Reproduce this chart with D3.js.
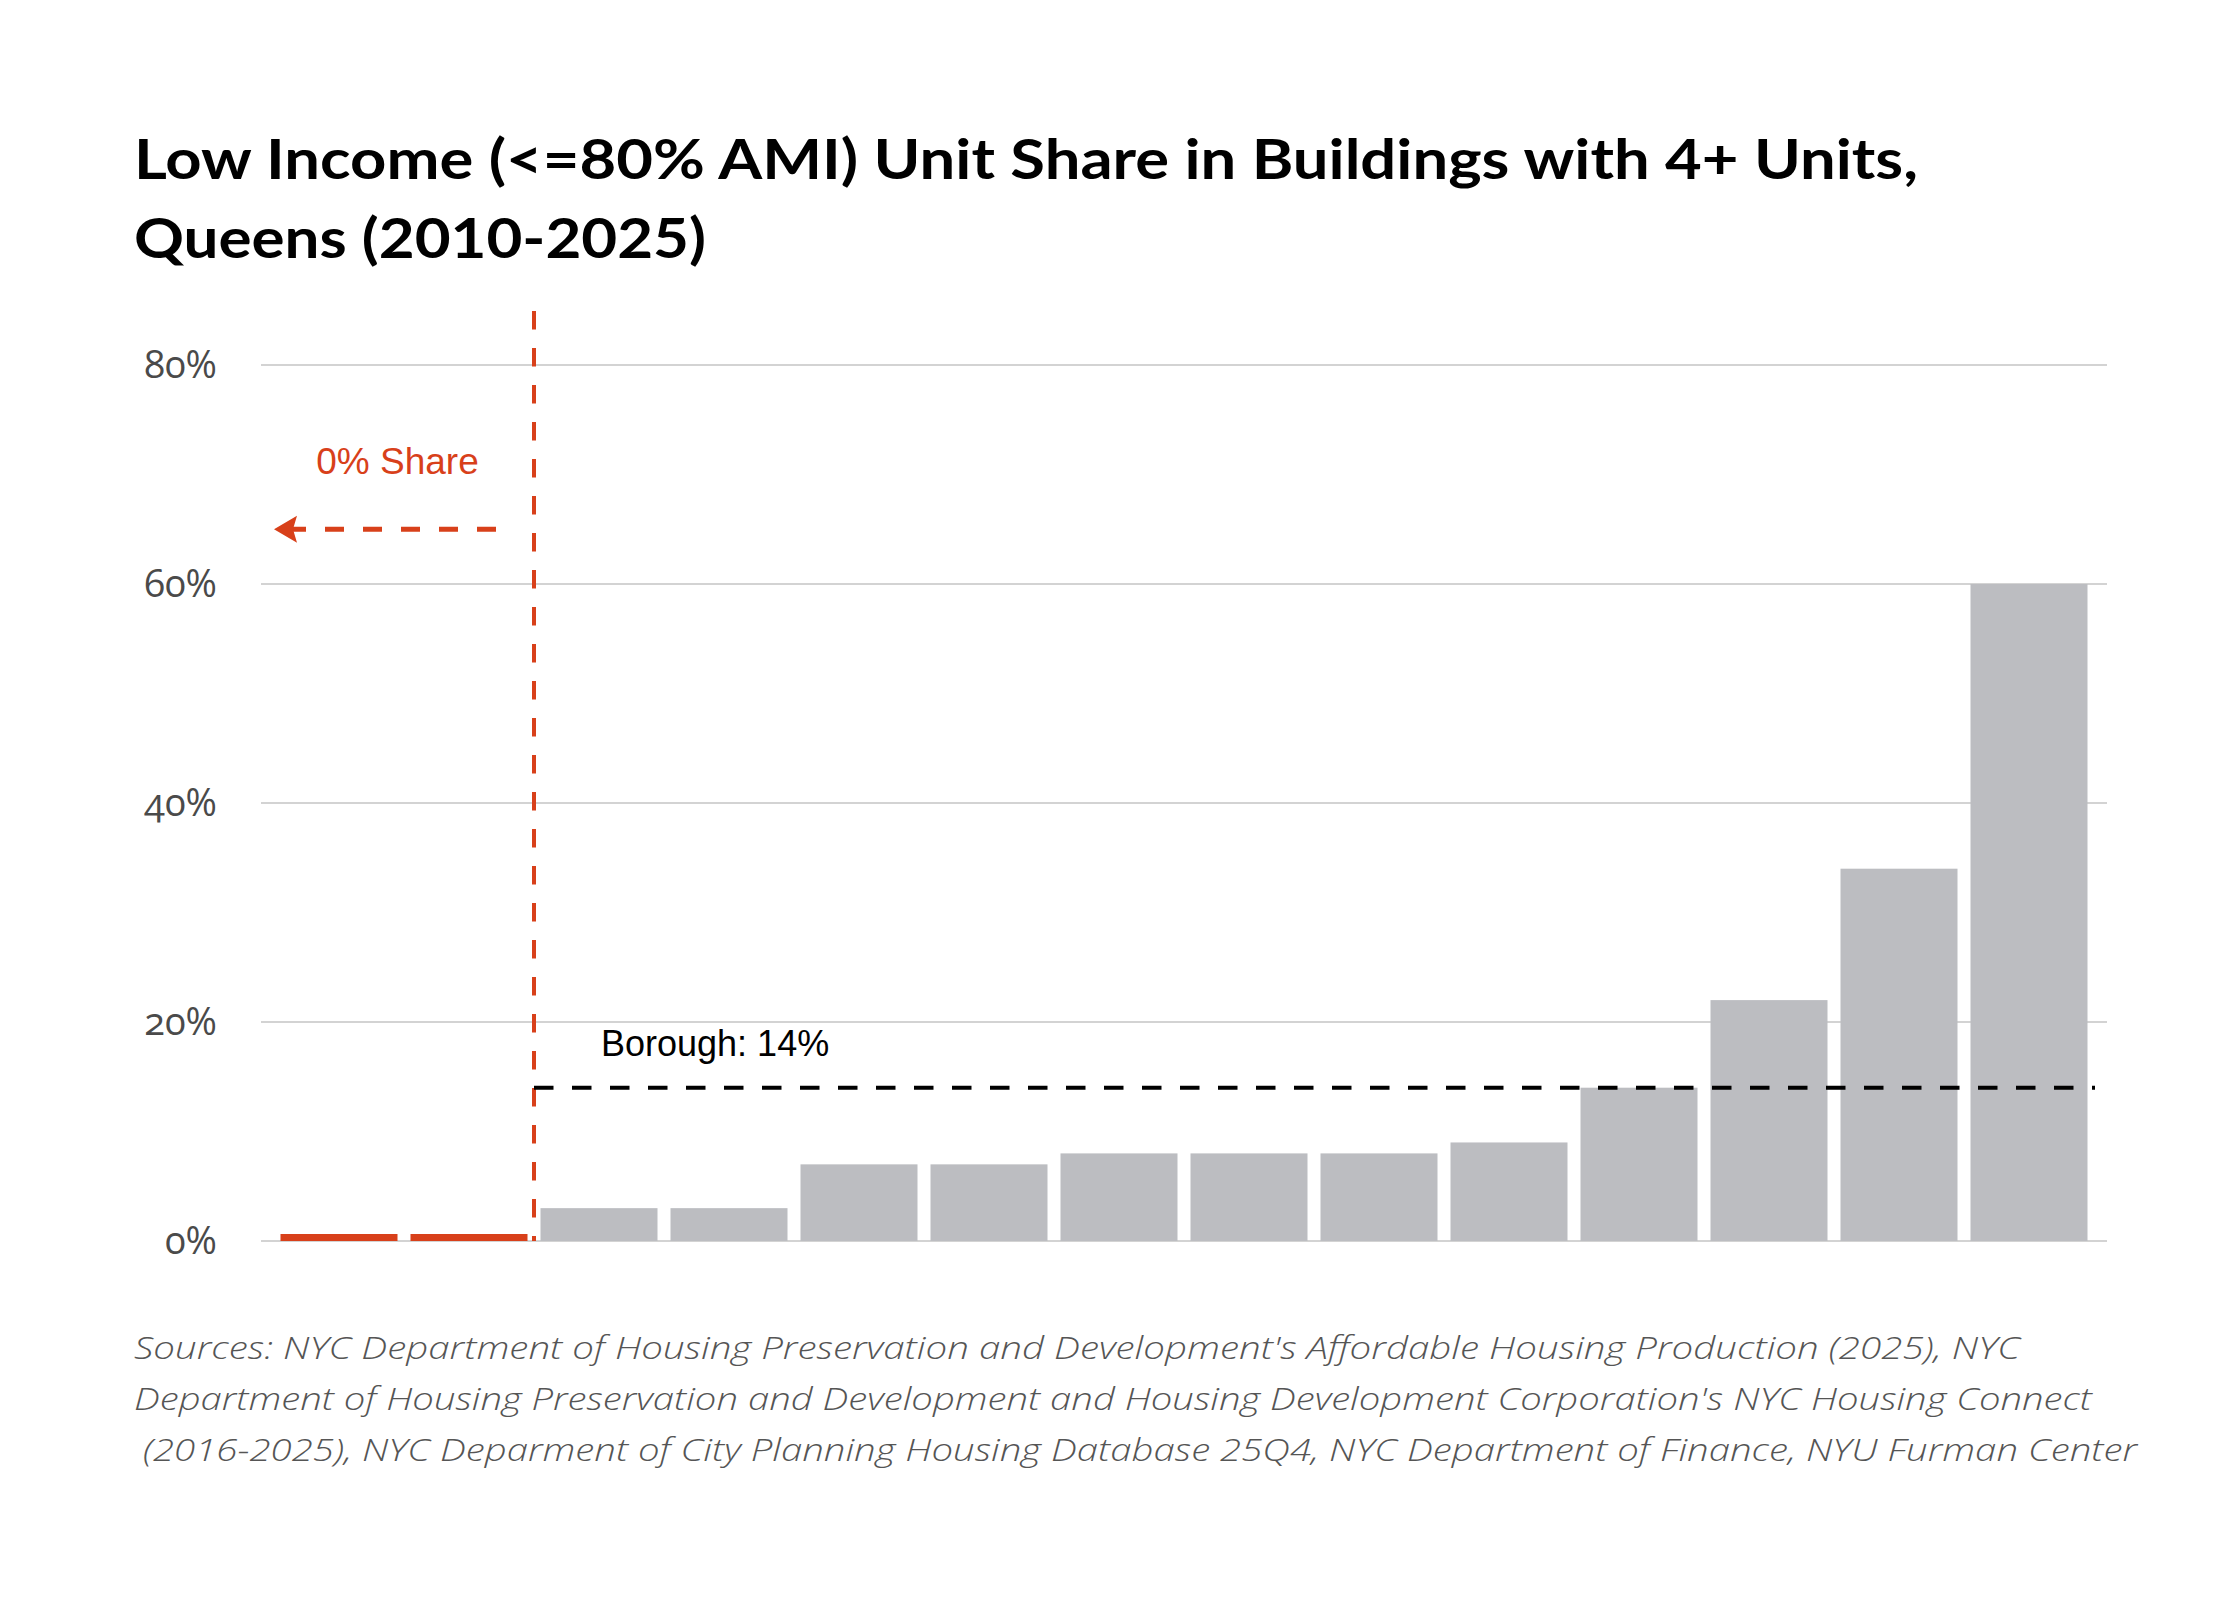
<!DOCTYPE html>
<html>
<head>
<meta charset="utf-8">
<script src="https://cdn.jsdelivr.net/npm/d3@7"></script>
<style>
  html, body { margin: 0; padding: 0; background: #fff; }
  svg { display: block; }
</style>
</head>
<body>
<svg id="chart" width="2240" height="1600"></svg>
<script>
// ---- Data ----
const categories = ["c1","c2","c3","c4","c5","c6","c7","c8","c9","c10","c11","c12","c13","c14"];
const values = [0, 0, 3, 3, 7, 7, 8, 8, 8, 9, 14, 22, 34, 60];
const zeroShare = [true, true, false, false, false, false, false, false, false, false, false, false, false, false];
const boroughValue = 14;
const yTicks = [0, 20, 40, 60, 80];
const yTickLabels = ["0%", "20%", "40%", "60%", "80%"];
const arrowLevel = 65;
const titleLines = [
  "Low Income (<=80% AMI) Unit Share in Buildings with 4+ Units,",
  "Queens (2010-2025)"
];
const sourceLines = [
  "Sources: NYC Department of Housing Preservation and Development's Affordable Housing Production (2025), NYC",
  "Department of Housing Preservation and Development and Housing Development Corporation's NYC Housing Connect",
  "(2016-2025), NYC Deparment of City Planning Housing Database 25Q4, NYC Department of Finance, NYU Furman Center"
];
const boroughLabel = "Borough: 14%";
const zeroLabel = "0% Share";

// ---- Layout ----
const svg = d3.select("#chart");
const RED = "#d8401a";
const GRAY = "#bcbdc1";
const GRID = "#d3d3d3";

const x = d3.scaleBand().domain(categories).range([261, 2107]).paddingInner(0.1).paddingOuter(0.15);
const y = d3.scaleLinear().domain([0, 80]).range([1241, 365]);

function fit(sel, target) {
  sel.each(function() {
    const w = this.getComputedTextLength();
    if (w > 0) d3.select(this).attr("textLength", target).attr("lengthAdjust", "spacingAndGlyphs");
  });
}

// Title
const titleTargets = [1784, 572];
svg.selectAll("text.title").data(titleLines).join("text")
  .attr("class", "title")
  .attr("x", 134)
  .attr("y", (d, i) => 179 + i * 79)
  .attr("font-family", "Lato, 'Open Sans', sans-serif")
  .attr("font-weight", 700)
  .attr("font-size", 56)
  .attr("fill", "#000")
  .text(d => d)
  .each(function(d, i) { fit(d3.select(this), titleTargets[i]); });

// Grid + y axis
const yAxis = d3.axisLeft(y).tickValues(yTicks).tickSize(0).tickPadding(0)
  .tickFormat((d, i) => yTickLabels[i]);
const gy = svg.append("g").attr("transform", "translate(217,0)").call(yAxis);
gy.select(".domain").remove();
gy.selectAll("text")
  .attr("font-family", "'Open Sans', Lato, sans-serif")
  .attr("font-size", 38)
  .attr("fill", "#4a4a4a")
  .style("font-variant-numeric", "oldstyle-nums")
  .attr("dy", "0.34em");

svg.append("g").selectAll("line").data(yTicks).join("line")
  .attr("x1", 261).attr("x2", 2107)
  .attr("y1", d => y(d)).attr("y2", d => y(d))
  .attr("stroke", GRID).attr("stroke-width", 2);

// Bars
const bars = categories.map((c, i) => ({ c, v: values[i], z: zeroShare[i] }));
svg.append("g").selectAll("rect").data(bars).join("rect")
  .attr("x", d => x(d.c))
  .attr("width", x.bandwidth())
  .attr("y", d => d.z ? y(0) - 7 : y(d.v))
  .attr("height", d => d.z ? 7 : y(0) - y(d.v))
  .attr("fill", d => d.z ? RED : GRAY);

// Divider between zero-share and others
const lastZero = categories[zeroShare.lastIndexOf(true)];
const firstNonZero = categories[zeroShare.indexOf(false)];
const divX = (x(lastZero) + x.bandwidth() + x(firstNonZero)) / 2;

svg.append("line")
  .attr("x1", divX).attr("x2", divX)
  .attr("y1", 311).attr("y2", y(0))
  .attr("stroke", RED).attr("stroke-width", 4)
  .attr("stroke-dasharray", "18.5,18.5");

// Borough line
svg.append("line")
  .attr("x1", divX).attr("x2", x.range()[1] - 12)
  .attr("y1", y(boroughValue)).attr("y2", y(boroughValue))
  .attr("stroke", "#000").attr("stroke-width", 4)
  .attr("stroke-dasharray", "19.5,18.5");

svg.append("text")
  .attr("x", divX + 67)
  .attr("y", y(boroughValue) - 32)
  .attr("font-family", "'Liberation Sans', Arial, sans-serif")
  .attr("font-size", 36)
  .attr("fill", "#000")
  .text(boroughLabel);

// Zero-share annotation
const zeroMid = (x.range()[0] + divX) / 2;
svg.append("text")
  .attr("x", zeroMid)
  .attr("y", 474)
  .attr("text-anchor", "middle")
  .attr("font-family", "'Liberation Sans', Arial, sans-serif")
  .attr("font-size", 37)
  .attr("fill", RED)
  .text(zeroLabel);

const ay = y(arrowLevel);
const arrowRight = divX - 38;
const arrowTip = x.range()[0] + 13;
svg.append("line")
  .attr("x1", arrowRight).attr("x2", arrowTip + 12)
  .attr("y1", ay).attr("y2", ay)
  .attr("stroke", RED).attr("stroke-width", 5)
  .attr("stroke-dasharray", "19,19");
svg.append("path")
  .attr("d", `M${arrowTip},${ay} L${arrowTip + 23},${ay - 13.5} L${arrowTip + 19},${ay} L${arrowTip + 23},${ay + 13.5} Z`)
  .attr("fill", RED);

// Sources
const srcTargets = [1886, 1958, 1994];
const srcX = [134, 134, 143];
svg.selectAll("text.src").data(sourceLines).join("text")
  .attr("class", "src")
  .attr("x", (d, i) => srcX[i])
  .attr("y", (d, i) => 1359 + i * 51)
  .attr("font-family", "'Open Sans', Lato, sans-serif")
  .attr("font-style", "italic")
  .attr("font-weight", 300)
  .attr("font-size", 31)
  .attr("fill", "#555")
  .text(d => d)
  .each(function(d, i) { fit(d3.select(this), srcTargets[i]); });
</script>
</body>
</html>
